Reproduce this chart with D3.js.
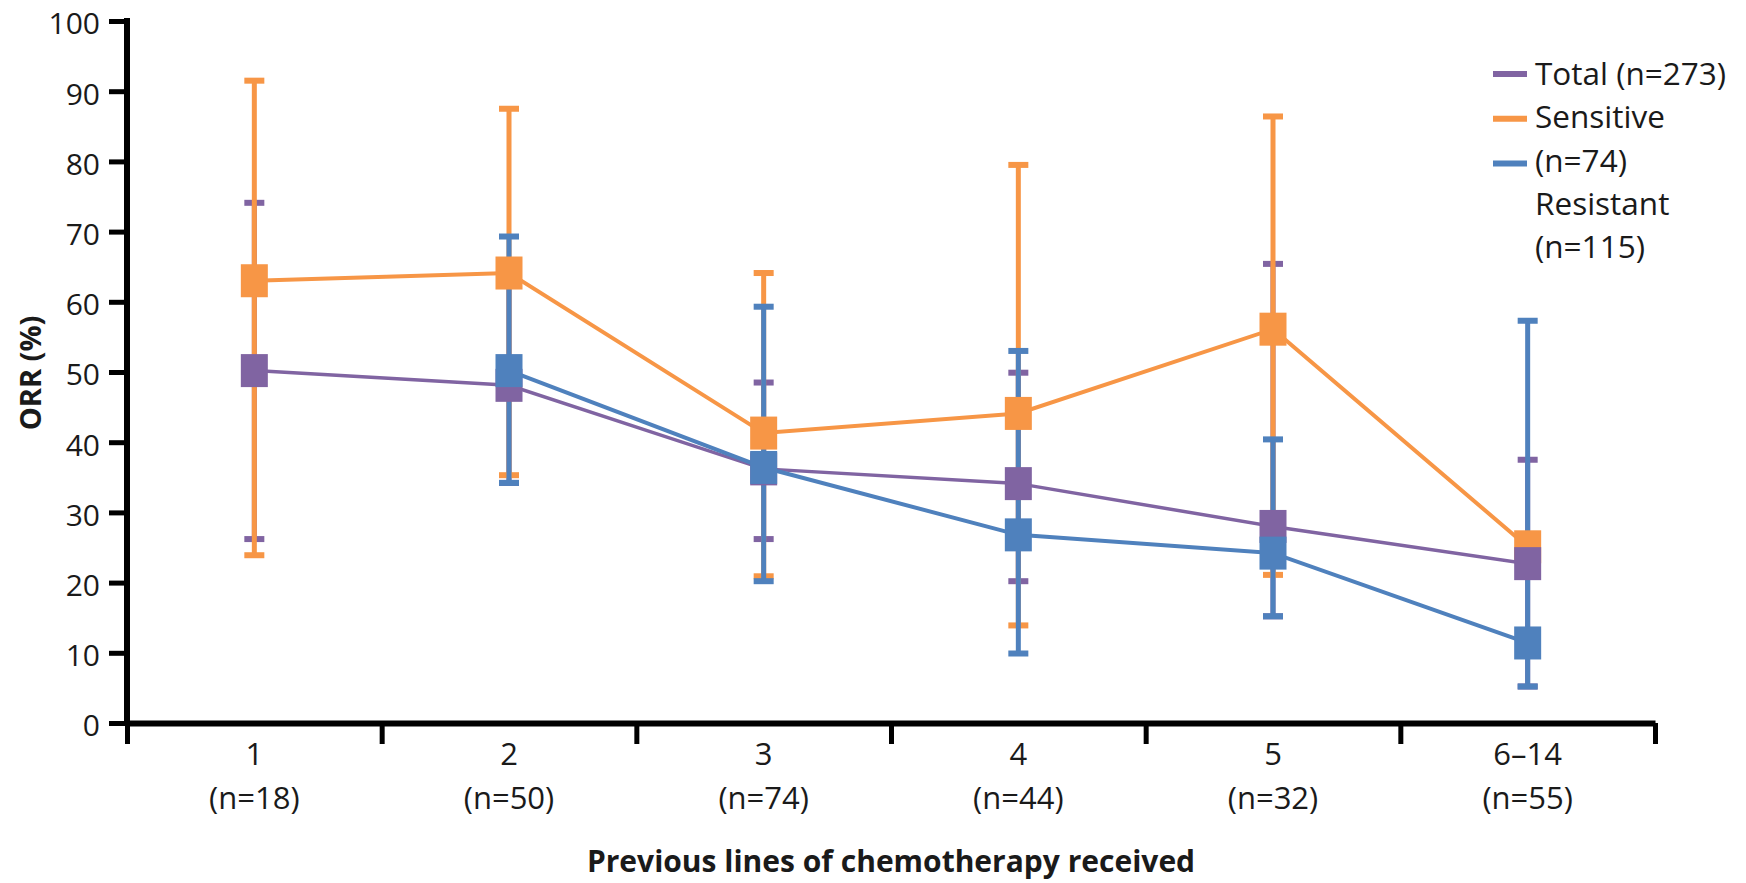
<!DOCTYPE html>
<html>
<head>
<meta charset="utf-8">
<script src="https://cdn.jsdelivr.net/npm/d3@7"></script>
<style>
  body { margin: 0; background: #fff; }
  text { font-family: 'Open Sans', sans-serif; fill: #1a1a1a; }
</style>
</head>
<body>
<svg id="chart"></svg>
<script>
const categories = ['1', '2', '3', '4', '5', '6–14'];
const categoryCounts = ['(n=18)', '(n=50)', '(n=74)', '(n=44)', '(n=32)', '(n=55)'];
const yTicks = [0, 10, 20, 30, 40, 50, 60, 70, 80, 90, 100];

const totalOrr = [50.2, 48.1, 36.2, 34.1, 28, 22.7];
const totalLow = [26.2, 34.2, 26.2, 20.2, 15.2, 5.2];
const totalHigh = [74.1, 63, 48.5, 49.9, 65.4, 37.5];

const sensitiveOrr = [63, 64.1, 41.3, 44.1, 56.1, 25.1];
const sensitiveLow = [23.9, 35.3, 20.9, 13.9, 21.1, null];
const sensitiveHigh = [91.5, 87.5, 64.1, 79.5, 86.4, null];

const resistantOrr = [null, 50.2, 36.4, 26.8, 24.2, 11.4];
const resistantLow = [null, 34.2, 20.2, 9.9, 15.2, 5.2];
const resistantHigh = [null, 69.3, 59.3, 53, 40.4, 57.3];

const legendLines = ['Total (n=273)', 'Sensitive', '(n=74)', 'Resistant', '(n=115)'];
const legendColors = ['#8064A2', '#F79646', '#4F81BD'];

class OrrChart {
  constructor(width, height, id) {
    this.width = width;
    this.height = height;
    this.margin = {left: 127, right: 91, top: 21, bottom: 160};
    this.svg = d3.select(id)
      .attr('width', this.width + this.margin.left + this.margin.right)
      .attr('height', this.height + this.margin.top + this.margin.bottom)
      .append('g')
      .attr('transform', `translate( ${this.margin.left}, ${this.margin.top} )`);
    this.yScale = d3.scaleLinear().domain([0, 100]).range([this.height, 0]);
    this.xScale = d3.scaleBand().domain(categories).range([0, this.width]);
    this.edgeScale = d3.scaleLinear().domain([0, categories.length]).range([0, this.width]);
    this.series = [
      {name: 'sensitive', color: '#F79646', orr: sensitiveOrr, low: sensitiveLow, high: sensitiveHigh, lineWidth: 4},
      {name: 'total', color: '#8064A2', orr: totalOrr, low: totalLow, high: totalHigh, lineWidth: 3.5},
      {name: 'resistant', color: '#4F81BD', orr: resistantOrr, low: resistantLow, high: resistantHigh, lineWidth: 4}
    ];
  }

  cx(i) {
    return this.xScale(categories[i]) + this.xScale.bandwidth() / 2;
  }

  drawAxes() {
    const yAxis = this.svg.append('g')
      .call(d3.axisLeft(this.yScale).tickValues(yTicks).tickSize(18).tickSizeOuter(0).tickPadding(9));
    yAxis.selectAll('line').attr('stroke', '#000').attr('stroke-width', 5);
    yAxis.select('.domain').attr('stroke', '#000').attr('stroke-width', 6)
      .attr('d', `M0,${this.height}V-3`);
    yAxis.selectAll('text')
      .style('font-size', '30px')
      .attr('dy', '0.43em');

    const xAxis = this.svg.append('g')
      .attr('transform', `translate(0, ${this.height})`)
      .call(d3.axisBottom(this.edgeScale).tickValues(d3.range(categories.length + 1))
        .tickSize(21).tickSizeOuter(0).tickFormat(''));
    xAxis.selectAll('line').attr('stroke', '#000').attr('stroke-width', 5);
    xAxis.select('.domain').attr('stroke', '#000').attr('stroke-width', 6);

    const labels = this.svg.append('g')
      .selectAll('text')
      .data(categories)
      .enter()
      .append('text')
      .attr('text-anchor', 'middle')
      .style('font-size', '31px');
    labels.append('tspan')
      .attr('x', (d, i) => this.cx(i))
      .attr('y', this.height + 42)
      .text(d => d);
    labels.append('tspan')
      .attr('x', (d, i) => this.cx(i))
      .attr('y', this.height + 86)
      .text((d, i) => categoryCounts[i]);

    this.svg.append('text')
      .attr('x', this.width / 2)
      .attr('y', this.height + 149)
      .attr('text-anchor', 'middle')
      .style('font-size', '30px')
      .style('font-weight', 'bold')
      .text('Previous lines of chemotherapy received');

    const yLabelX = 41 - this.margin.left;
    const yLabelY = 373 - this.margin.top;
    this.svg.append('text')
      .attr('x', yLabelX)
      .attr('y', yLabelY)
      .attr('text-anchor', 'middle')
      .attr('transform', `rotate(-90, ${yLabelX}, ${yLabelY})`)
      .style('font-size', '29px')
      .style('font-weight', 'bold')
      .text('ORR (%)');
  }

  drawErrorBars() {
    // purple under orange under blue, as in the original
    const order = [this.series[1], this.series[0], this.series[2]];
    order.forEach(s => {
      const idx = d3.range(categories.length).filter(i => s.low[i] != null);
      const g = this.svg.append('g').attr('class', 'err-' + s.name);
      g.selectAll('line.stem')
        .data(idx)
        .enter()
        .append('line')
        .attr('x1', i => this.cx(i))
        .attr('x2', i => this.cx(i))
        .attr('y1', i => this.yScale(s.low[i]))
        .attr('y2', i => this.yScale(s.high[i]))
        .attr('stroke', s.color)
        .attr('stroke-width', 5);
      [s.low, s.high].forEach(ends => {
        g.selectAll(null)
          .data(idx)
          .enter()
          .append('rect')
          .attr('x', i => this.cx(i) - 10)
          .attr('y', i => this.yScale(ends[i]) - 3)
          .attr('width', 20)
          .attr('height', 6)
          .attr('fill', s.color);
      });
    });
  }

  drawSeries() {
    this.series.forEach(s => {
      const pts = d3.range(categories.length).filter(i => s.orr[i] != null);
      const line = d3.line()
        .x(i => this.cx(i))
        .y(i => this.yScale(s.orr[i]));
      this.svg.append('path')
        .datum(pts)
        .attr('d', line)
        .attr('fill', 'none')
        .attr('stroke', s.color)
        .attr('stroke-width', s.lineWidth);
      this.svg.append('g')
        .selectAll('rect')
        .data(pts)
        .enter()
        .append('rect')
        .attr('x', i => this.cx(i) - 13.5)
        .attr('y', i => this.yScale(s.orr[i]) - 16.5)
        .attr('width', 27)
        .attr('height', 33)
        .attr('fill', s.color);
    });
  }

  drawLegend() {
    const lx = 1535 - this.margin.left;
    const legend = this.svg.append('g');
    legend.selectAll('text')
      .data(legendLines)
      .enter()
      .append('text')
      .attr('x', lx)
      .attr('y', (d, i) => 85 - this.margin.top + i * 43.3)
      .style('font-size', '31.5px')
      .text(d => d);
    legend.selectAll('line')
      .data(legendColors)
      .enter()
      .append('line')
      .attr('x1', lx - 42)
      .attr('x2', lx - 8)
      .attr('y1', (d, i) => 74 - this.margin.top + i * 44.8)
      .attr('y2', (d, i) => 74 - this.margin.top + i * 44.8)
      .attr('stroke', d => d)
      .attr('stroke-width', 6);
  }
}

const chart = new OrrChart(1528, 702, '#chart');
chart.drawAxes();
chart.drawErrorBars();
chart.drawSeries();
chart.drawLegend();
</script>
</body>
</html>
